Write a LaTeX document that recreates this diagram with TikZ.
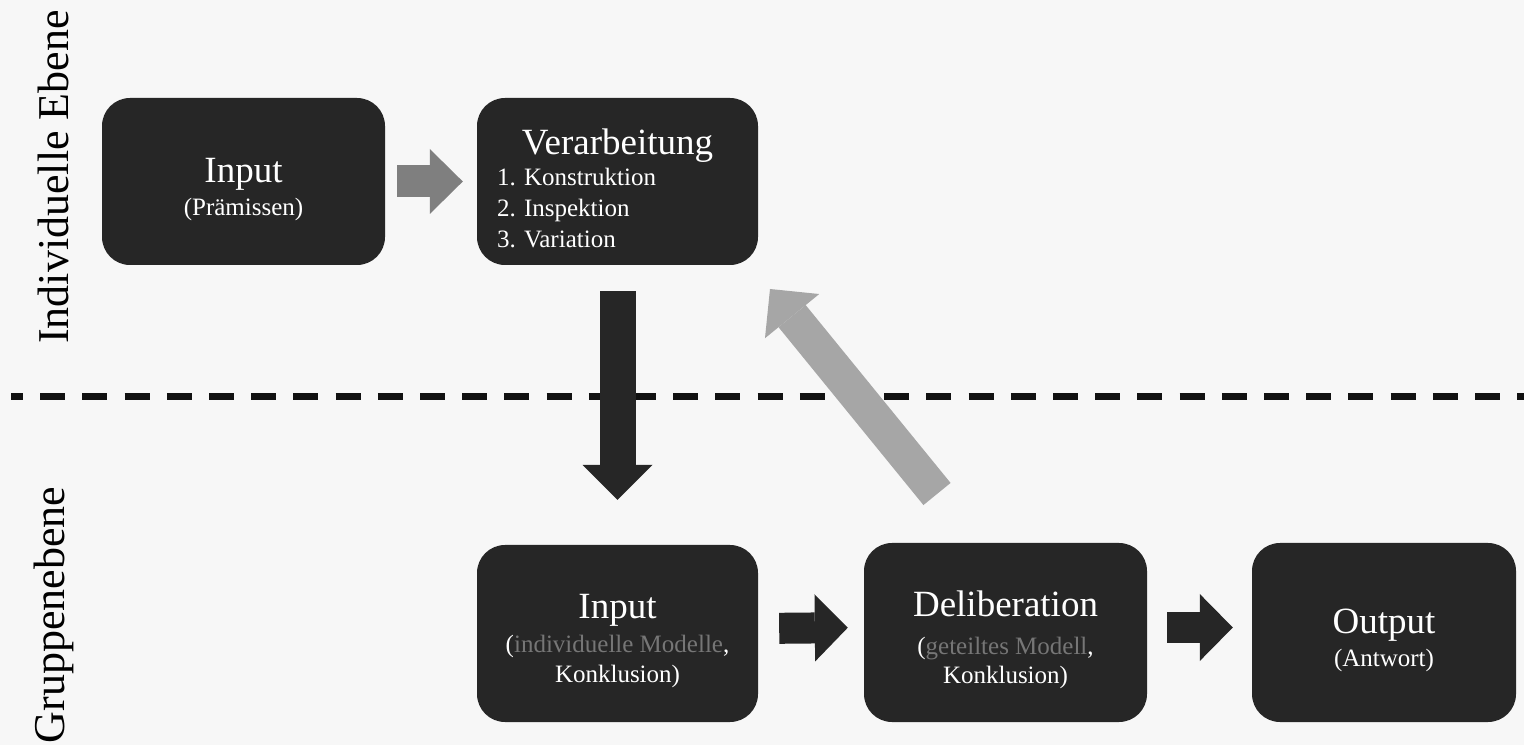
\documentclass[tikz,border=0pt]{standalone}
\usepackage{fontspec}
\setmainfont{Liberation Serif}
\usetikzlibrary{arrows.meta}
\definecolor{bggray}{HTML}{F7F7F7}
\definecolor{boxdark}{HTML}{262626}
\definecolor{midarrow}{HTML}{7F7F7F}
\definecolor{lightarrow}{HTML}{A6A6A6}
\definecolor{subgray}{HTML}{767676}
\definecolor{dashblack}{HTML}{111111}
\newcommand{\stagetitle}[1]{{\fontsize{37}{40}\selectfont\rule{0pt}{40pt}#1}}
\frenchspacing
\begin{document}
\begin{tikzpicture}[x=1pt,y=1pt,
    stagebox/.style={fill=boxdark,rounded corners=28pt,text=white,align=center,inner sep=0pt,font=\fontsize{25}{31}\selectfont},
    sidelabel/.style={rotate=90,anchor=base,font=\fontsize{44}{48}\selectfont},
    blockarrow/.style={line width=#1}]
        \fill[bggray] (0,0) rectangle (1524,745);
        \useasboundingbox (0,0) rectangle (1524,745);
        \draw[dashblack,line width=7pt,dash pattern=on 25pt off 17.2pt,dash phase=13pt] (11,348) -- (1524,348);
        % individual level
        \node[sidelabel] (indiv) at (68,568) {Individuelle Ebene};
        \node[stagebox,minimum width=283pt,minimum height=167pt] (inA) at (243.5,563.5) {\stagetitle{Input}\\[2pt](Prämissen)};
        \node[stagebox,minimum width=281pt,minimum height=167pt,text width=241pt,align=left] (verarb) at (617.5,563.5) {\makebox[241pt]{\stagetitle{Verarbeitung}}\\[0pt]1. Konstruktion\\2. Inspektion\\3. Variation};
        % group level
        \node[sidelabel] (gruppe) at (64,130) {Gruppenebene};
        \node[stagebox,minimum width=281pt,minimum height=177pt] (inB) at (617.5,111.5) {\stagetitle{Input}\\[3pt](\textcolor{subgray}{individuelle Modelle},\\[-1pt]Konklusion)};
        \node[stagebox,minimum width=283pt,minimum height=179pt] (delib) at (1005.5,112.5) {\stagetitle{Deliberation}\\[7pt](\textcolor{subgray}{geteiltes Modell},\\[-2pt]Konklusion)};
        \node[stagebox,minimum width=264pt,minimum height=179pt] (outp) at (1384,112.5) {\stagetitle{Output}\\[2pt](Antwort)};
        \coordinate (fbtail) at (937,251);
        \coordinate (fbtip) at (770,456);
        % arrows
        \draw[midarrow,blockarrow=32pt,-{Triangle[length=33pt,width=65pt,line width=0pt]},shorten <=12pt,shorten >=14pt] (inA) -- (verarb);
        \draw[boxdark,blockarrow=36pt,-{Triangle[length=35pt,width=70pt,line width=0pt]},shorten <=26pt,shorten >=45pt] (verarb) -- (inB);
        \draw[lightarrow,blockarrow=35pt,-{Triangle[length=35pt,width=70pt,line width=0pt]}] (fbtail) -- (fbtip);
        \draw[boxdark,blockarrow=31pt,-{Triangle[length=33pt,width=67pt,line width=0pt]},shorten <=21pt,shorten >=16pt] ([yshift=5pt]inB.east) -- ([yshift=5pt]delib.west);
        \draw[boxdark,blockarrow=31pt,-{Triangle[length=33pt,width=67pt,line width=0pt]},shorten <=20pt,shorten >=19pt] ([yshift=5pt]delib.east) -- ([yshift=5pt]outp.west);
\end{tikzpicture}
\end{document}
